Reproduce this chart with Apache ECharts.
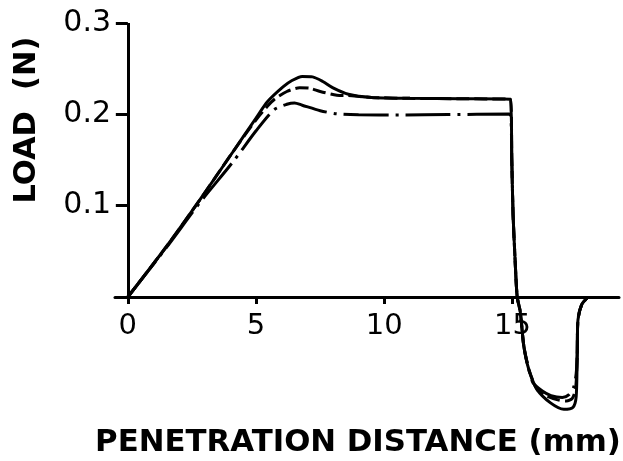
<!DOCTYPE html>
<html>
<head>
<meta charset="utf-8">
<script src="https://cdn.jsdelivr.net/npm/echarts@6/dist/echarts.min.js"></script>
<style>
  html, body { margin: 0; padding: 0; background: #fff; }
  #chart { width: 623px; height: 461px; }
</style>
</head>
<body>
<div id="chart"></div>
<script>
// Penetration distance (mm) and load (N) for the three test curves
const distSolid = [0, 1.5, 2.8, 4.1, 5.0, 5.45, 6.05, 6.4, 6.8, 7.2, 7.6, 8.0, 8.6, 9.5, 11, 13, 14.92,
  14.97, 15.02, 15.1, 15.18, 15.3, 15.44, 15.64, 15.96, 16.48, 17.0, 17.35, 17.48, 17.52, 17.55, 17.7, 17.95];
const loadSolid = [0, 0.055, 0.106, 0.159, 0.196, 0.214, 0.230, 0.237, 0.2415, 0.241, 0.236, 0.229, 0.222, 0.2185, 0.2175, 0.217, 0.2165,
  0.15, 0.09, 0.04, 0, -0.016, -0.054, -0.080, -0.1015, -0.116, -0.123, -0.121, -0.109, -0.064, -0.025, -0.008, 0];

const distDashed = [0, 1.5, 2.8, 4.1, 5.0, 5.45, 5.7, 6.2, 6.7, 7.1, 7.5, 8.15, 8.6, 9.5, 11, 13, 14.92,
  14.97, 15.02, 15.1, 15.18, 15.3, 15.44, 15.64, 15.96, 16.3, 16.8, 17.1, 17.33, 17.46, 17.52, 17.55, 17.7, 17.95];
const loadDashed = [0, 0.055, 0.106, 0.159, 0.194, 0.209, 0.216, 0.225, 0.229, 0.2285, 0.225, 0.221, 0.2205, 0.2185, 0.2175, 0.217, 0.2165,
  0.15, 0.09, 0.04, 0, -0.016, -0.054, -0.080, -0.1015, -0.108, -0.113, -0.114, -0.111, -0.100, -0.064, -0.025, -0.008, 0];

const distDashDot = [0, 1.5, 2.8, 4.1, 5.0, 5.7, 6.2, 6.5, 6.8, 7.5, 8.15, 9, 10.6, 12.5, 14.9,
  14.97, 15.02, 15.1, 15.18, 15.3, 15.44, 15.64, 15.8, 16.16, 16.5, 16.94, 17.2, 17.39, 17.48, 17.52, 17.55, 17.7, 17.95];
const loadDashDot = [0, 0.054, 0.103, 0.148, 0.182, 0.205, 0.211, 0.2125, 0.210, 0.204, 0.2005, 0.1995, 0.1993, 0.1997, 0.2004,
  0.15, 0.09, 0.04, 0, -0.016, -0.054, -0.080, -0.094, -0.103, -0.108, -0.110, -0.107, -0.098, -0.084, -0.064, -0.025, -0.008, 0];

// Axis ticks and ranges
const xTicks = [0, 5, 10, 15];
const yTicks = [0.1, 0.2, 0.3];
const xRange = [-0.5, 19.15];
const yRange = [-0.13, 0.3];

const pairs = (xs, ys) => xs.map((x, i) => [x, ys[i]]);

const INK = '#000';
const LW = 3;
const GRID = { left: 115, right: 4, top: 23, bottom: 45.3 };
const HEIGHT = 461;

const chart = echarts.init(document.getElementById('chart'), null, { renderer: 'canvas' });

// pixel height of the negative part of the plot, used to lift the label axis onto the zero line
const plotH = HEIGHT - GRID.top - GRID.bottom;
const belowZero = plotH * (0 - yRange[0]) / (yRange[1] - yRange[0]);

chart.setOption({
  backgroundColor: '#fff',
  animation: false,
  grid: Object.assign({ containLabel: false, outerBoundsMode: 'none' }, GRID),
  xAxis: [
    {
      // axis line and ticks, sitting on load = 0
      type: 'value',
      min: xRange[0], max: xRange[1],
      axisLine: { show: true, onZero: true, lineStyle: { color: INK, width: LW } },
      axisTick: { show: true, customValues: xTicks, length: 7, inside: false, lineStyle: { color: INK, width: LW } },
      axisLabel: { show: false },
      splitLine: { show: false }
    },
    {
      // tick labels for the distance axis
      type: 'value',
      position: 'bottom',
      offset: -belowZero,
      min: xRange[0], max: xRange[1],
      axisLine: { show: false, onZero: false },
      axisTick: { show: false },
      axisLabel: {
        customValues: xTicks, margin: 15,
        color: INK, fontFamily: 'DejaVu Sans', fontSize: 29,
        formatter: v => String(v)
      },
      splitLine: { show: false }
    }
  ],
  yAxis: {
    type: 'value',
    min: yRange[0], max: yRange[1],
    axisLine: { show: false, onZero: true },
    axisTick: { show: true, customValues: yTicks, length: 12, lineStyle: { color: INK, width: LW } },
    axisLabel: {
      customValues: yTicks, margin: 4,
      color: INK, fontFamily: 'DejaVu Sans', fontSize: 30,
      formatter: v => v.toFixed(1)
    },
    splitLine: { show: false }
  },
  graphic: [
    {
      type: 'text', x: 27, y: 120, rotation: Math.PI / 2,
      style: {
        text: 'LOAD  (N)', x: 0, y: 0, align: 'center', verticalAlign: 'middle',
        fill: INK, font: 'bold 30.5px "DejaVu Sans"'
      }
    },
    {
      type: 'text', x: 358, y: 443,
      style: {
        text: 'PENETRATION DISTANCE (mm)', x: 0, y: 0, align: 'center', verticalAlign: 'middle',
        fill: INK, font: 'bold 30.8px "DejaVu Sans"'
      }
    }
  ],
  series: [
    {
      name: 'dash-dot', type: 'line', data: pairs(distDashDot, loadDashDot),
      showSymbol: false, smooth: 0.25, z: 2,
      lineStyle: { color: INK, width: LW, type: [45, 7, 3, 7] }
    },
    {
      name: 'dashed', type: 'line', data: pairs(distDashed, loadDashed),
      showSymbol: false, smooth: 0.25, z: 3,
      lineStyle: { color: INK, width: LW, type: [13, 5] }
    },
    {
      name: 'solid', type: 'line', data: pairs(distSolid, loadSolid),
      showSymbol: false, smooth: 0.25, z: 4,
      lineStyle: { color: INK, width: LW, type: 'solid' },
      // vertical load axis, drawn from zero up to the top tick
      markLine: {
        silent: true, symbol: 'none', animation: false,
        label: { show: false },
        lineStyle: { color: INK, width: LW, type: 'solid' },
        data: [[{ coord: [0, 0] }, { coord: [0, yTicks[yTicks.length - 1]] }]]
      }
    }
  ]
});
</script>
</body>
</html>
